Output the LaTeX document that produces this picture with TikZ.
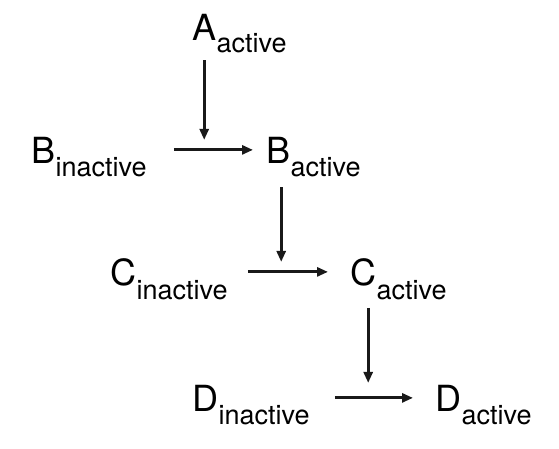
\documentclass[tikz,border=0pt]{standalone}
\usepackage{fontspec}
\setmainfont{TeX Gyre Heros}
\usetikzlibrary{arrows.meta}
\begin{document}
\begin{tikzpicture}[x=1pt,y=-1pt,
  big/.style={inner sep=0pt, anchor=base west, font=\fontsize{36}{36}\selectfont},
  sub/.style={inner sep=0pt, anchor=base west, font=\fontsize{27}{27}\selectfont},
  arr/.style={line width=2.8pt, draw=black!90, -{Triangle[length=11pt,width=9pt]}}]
\useasboundingbox (0,0) rectangle (559,448);
% species
\node[big] (A) at (192,40) {A};
\node[sub] (As) at ([yshift=-12pt]A.base east) {active};
\node[big] (Bi) at (31,163) {B};
\node[sub] (Bis) at ([yshift=-13pt]Bi.base east) {inactive};
\node[big] (Ba) at (266,163) {B};
\node[sub] (Bas) at ([yshift=-13pt]Ba.base east) {active};
\node[big] (Ci) at (110,285) {C};
\node[sub] (Cis) at ([yshift=-14pt]Ci.base east) {inactive};
\node[big] (Ca) at (350,285) {C};
\node[sub] (Cas) at ([yshift=-14pt]Ca.base east) {active};
\node[big] (Di) at (192,411) {D};
\node[sub] (Dis) at ([yshift=-13pt]Di.base east) {inactive};
\node[big] (Da) at (435,411) {D};
\node[sub] (Das) at ([yshift=-13pt]Da.base east) {active};
% horizontal conversions
\draw[arr] ([xshift=27pt]Bis.east |- Bi.east) -- ([xshift=-13pt]Ba.west);
\draw[arr] ([xshift=20pt]Cis.east |- Ci.east) -- ([xshift=-22pt]Ca.west);
\draw[arr] ([xshift=25pt]Dis.east |- Di.east) -- ([xshift=-22pt]Da.west);
% vertical activations
\draw[arr] ([yshift=-20pt]A.south) -- ([yshift=10pt]A.south |- Ba.west);
\draw[arr] ([xshift=3pt,yshift=-24pt]Ba.south) -- ([xshift=3pt,yshift=10pt]Ba.south |- Ca.west);
\draw[arr] ([xshift=5pt,yshift=-22pt]Ca.south) -- ([xshift=5pt,yshift=15pt]Ca.south |- Da.west);
\end{tikzpicture}
\end{document}
